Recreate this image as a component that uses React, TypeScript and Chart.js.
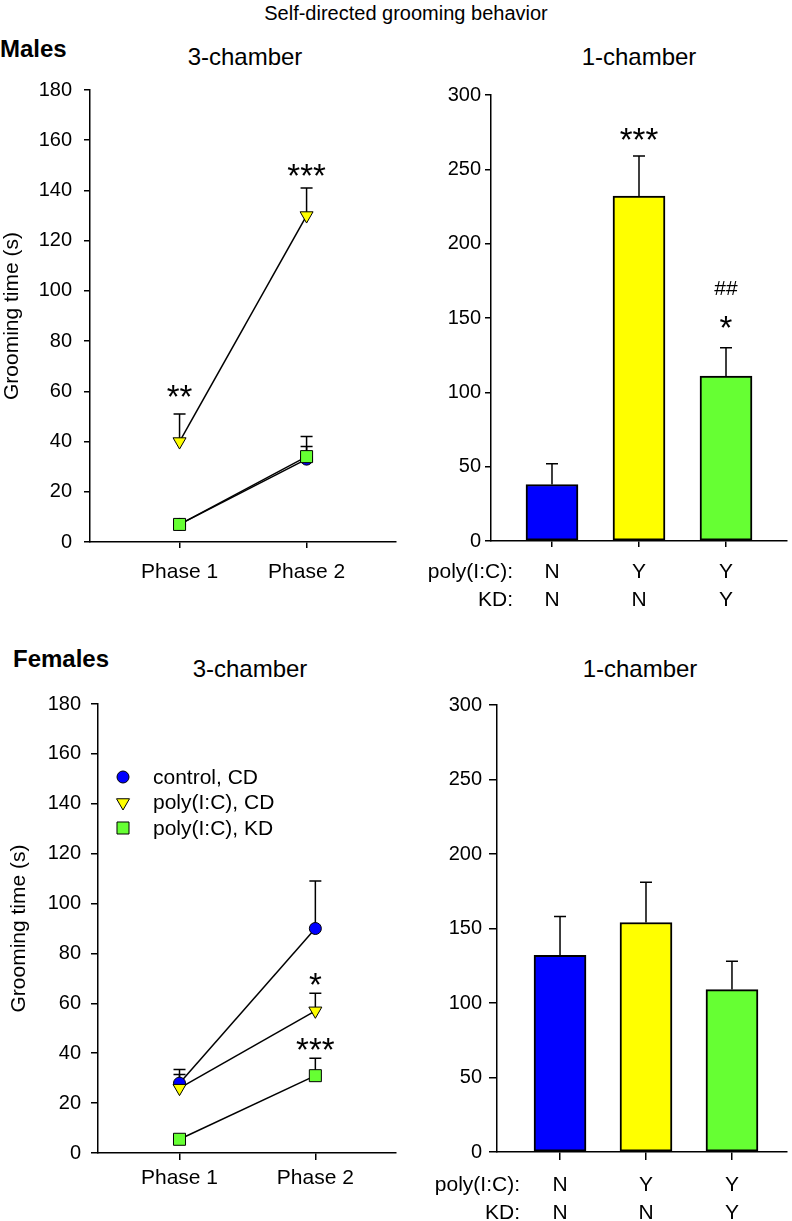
import React, { useEffect, useRef } from 'react';
import { Chart, registerables } from 'chart.js';

Chart.register(...registerables);

const FONT = "'Liberation Sans', Arial, Helvetica, sans-serif";
Chart.defaults.font.family = FONT;
Chart.defaults.color = '#000';

// ---------- data ----------
const phases = ['Phase 1', 'Phase 2'];
const groups = ['control, CD', 'poly(I:C), CD', 'poly(I:C), KD'];
const groupColors = ['#0000FF', '#FFFF00', '#66FF33'];

// Males, 3-chamber (mean and SEM per phase)
const malesControl = [7, 33];
const malesControlSem = [1, 5];
const malesPolyCD = [40, 130];
const malesPolyCDSem = [11, 11];
const malesPolyKD = [7, 34];
const malesPolyKDSem = [1, 8];

// Females, 3-chamber
const femalesControl = [28, 90];
const femalesControlSem = [5.5, 19];
const femalesPolyCD = [26, 57];
const femalesPolyCDSem = [5.5, 7];
const femalesPolyKD = [5.5, 31];
const femalesPolyKDSem = [1, 7];

// 1-chamber bars
const barPolyIC = ['N', 'Y', 'Y'];
const barKD = ['N', 'N', 'Y'];
const malesBars = [38, 232, 111];
const malesBarsSem = [14, 27, 19];
const femalesBars = [132, 154, 109];
const femalesBarsSem = [26, 27, 19];

// significance marks (x = group/phase index starting at 1, y = value at text baseline)
const males3Marks = [
  { x: 1, y: 53.4, text: '**' },
  { x: 2, y: 141.4, text: '***' },
];
const males1Marks = [
  { x: 2, y: 262.5, text: '***' },
  { x: 3, y: 135.8, text: '*' },
  { x: 3, y: 165.4, text: '##' },
];
const females3Marks = [
  { x: 2, y: 63.1, text: '*' },
  { x: 2, y: 37, text: '***' },
];
const females1Marks: { x: number; y: number; text: string }[] = [];

// ---------- helpers ----------
type Box = { left: number; top: number; width: number; height: number; x0: number; y0: number; x1: number; y1: number };

function drawMarker(ctx: CanvasRenderingContext2D, shape: string, x: number, y: number, r: number, color: string) {
  ctx.beginPath();
  if (shape === 'circle') ctx.arc(x, y, r, 0, Math.PI * 2);
  else if (shape === 'triangle') {
    ctx.moveTo(x - r * 0.866, y - r * 0.5);
    ctx.lineTo(x + r * 0.866, y - r * 0.5);
    ctx.lineTo(x, y + r);
    ctx.closePath();
  } else {
    const s = r * Math.SQRT1_2;
    ctx.rect(x - s, y - s, 2 * s, 2 * s);
  }
  ctx.fillStyle = color;
  ctx.fill();
  ctx.lineWidth = 1;
  ctx.strokeStyle = '#000';
  ctx.stroke();
}

function overlayPlugin(o: {
  err: { means: number[]; sems: number[] }[];
  marks: { x: number; y: number; text: string }[];
  legend?: { x: number; y: number; gap: number };
  rows?: { tickLen: number; pad: number; lh: number; dx: number };
}) {
  return {
    id: 'overlay',
    beforeDatasetsDraw(chart: any) {
      const { ctx } = chart;
      const xs = chart.scales.x;
      const ys = chart.scales.y;
      ctx.save();
      ctx.strokeStyle = '#000';
      ctx.lineWidth = 1.5;
      o.err.forEach((e) => {
        e.means.forEach((m, i) => {
          const px = xs.getPixelForValue(i + 1);
          const p0 = ys.getPixelForValue(m);
          const p1 = ys.getPixelForValue(m + e.sems[i]);
          ctx.beginPath();
          ctx.moveTo(px, p0);
          ctx.lineTo(px, p1);
          ctx.moveTo(px - 6, p1);
          ctx.lineTo(px + 6, p1);
          ctx.stroke();
        });
      });
      ctx.restore();
    },
    afterDraw(chart: any) {
      const { ctx } = chart;
      const xs = chart.scales.x;
      const ys = chart.scales.y;
      ctx.save();
      ctx.fillStyle = '#000';
      ctx.textAlign = 'center';
      ctx.textBaseline = 'alphabetic';
      o.marks.forEach((m) => {
        const isHash = m.text.indexOf('#') >= 0;
        ctx.font = `${isHash ? 21 : 33}px ${FONT}`;
        ctx.fillText(m.text, xs.getPixelForValue(m.x), ys.getPixelForValue(m.y));
      });
      if (o.legend) {
        const shapes = ['circle', 'triangle', 'rect'];
        const radii = [6, 7.5, 8.5];
        ctx.font = `21px ${FONT}`;
        ctx.textAlign = 'left';
        ctx.textBaseline = 'middle';
        groups.forEach((g, i) => {
          const y = o.legend!.y + i * o.legend!.gap;
          drawMarker(ctx, shapes[i], o.legend!.x, y, radii[i], groupColors[i]);
          ctx.fillStyle = '#000';
          ctx.fillText(g, o.legend!.x + 30, y + 1);
        });
      }
      if (o.rows) {
        const r = o.rows;
        ctx.font = `21px ${FONT}`;
        ctx.textAlign = 'right';
        ctx.textBaseline = 'middle';
        const x = xs.getPixelForValue(1) - r.dx;
        const base = xs.top + r.tickLen + r.pad;
        ctx.fillText('poly(I:C):', x, base + r.lh * 0.5);
        ctx.fillText('KD:', x, base + r.lh * 1.5);
      }
      ctx.restore();
    },
  };
}

function axisCommon(tickLen: number) {
  return {
    offset: false,
    grid: { display: true, offset: false, drawOnChartArea: false, drawTicks: true, tickLength: tickLen, color: '#000', lineWidth: 1.5 },
    border: { display: true, color: '#000', width: 1.5 },
  };
}

function lineConfig(box: Box, p: {
  means: number[][]; sems: number[][]; xmin: number; xmax: number;
  yPad: number; yTick: number; xTick: number; xPad: number; titlePad: number;
  marks: { x: number; y: number; text: string }[]; legend: boolean;
}) {
  const shapes = ['circle', 'triangle', 'rect'];
  const radii = [6, 7.5, 8.5];
  const datasets = p.means.map((m, i) => ({
    label: groups[i],
    data: m.map((v, j) => ({ x: j + 1, y: v })),
    borderColor: '#000',
    borderWidth: 1.5,
    pointStyle: shapes[i],
    pointRadius: radii[i],
    pointRotation: i === 1 ? 180 : 0,
    pointBackgroundColor: groupColors[i],
    pointBorderColor: '#000',
    pointBorderWidth: 1,
    order: 3 - i,
    tension: 0,
  }));
  return {
    type: 'line',
    data: { datasets },
    options: {
      responsive: false,
      animation: false,
      devicePixelRatio: 1,
      layout: { padding: { top: box.y0 - box.top, right: box.left + box.width - box.x1, left: 0, bottom: 0 } },
      plugins: { legend: { display: false }, tooltip: { enabled: false } },
      scales: {
        x: {
          type: 'linear',
          min: p.xmin,
          max: p.xmax,
          afterBuildTicks: (s: any) => { s.ticks = [{ value: 1 }, { value: 2 }]; },
          ticks: { callback: (v: number) => phases[v - 1], font: { size: 21, lineHeight: 1.2 }, color: '#000', padding: p.xPad, maxRotation: 0, autoSkip: false },
          ...axisCommon(p.xTick),
          afterFit: (s: any) => { s.height = box.top + box.height - box.y1; },
        },
        y: {
          min: 0,
          max: 180,
          ticks: { stepSize: 20, font: { size: 20 }, color: '#000', padding: p.yPad },
          ...axisCommon(p.yTick),
          title: { display: true, text: 'Grooming time (s)', font: { size: 21, lineHeight: 1.2 }, color: '#000', padding: { top: p.titlePad, bottom: 0 } },
          afterFit: (s: any) => { s.width = box.x0 - box.left; },
        },
      },
    },
    plugins: [overlayPlugin({
      err: p.means.map((m, i) => ({ means: m, sems: p.sems[i] })),
      marks: p.marks,
      legend: p.legend ? { x: 123, y: 97, gap: 25.5 } : undefined,
    })],
  };
}

function barConfig(box: Box, p: {
  means: number[]; sems: number[]; xmin: number; xmax: number;
  yPad: number; yTick: number; xTick: number; xPad: number; rowDx: number;
  marks: { x: number; y: number; text: string }[];
}) {
  return {
    type: 'bar',
    data: {
      datasets: [{
        data: p.means.map((v, i) => ({ x: i + 1, y: v })),
        backgroundColor: groupColors,
        borderColor: '#000',
        borderWidth: 2,
        borderSkipped: false,
        barThickness: 52,
      }],
    },
    options: {
      responsive: false,
      animation: false,
      devicePixelRatio: 1,
      layout: { padding: { top: box.y0 - box.top, right: box.left + box.width - box.x1, left: 0, bottom: 0 } },
      plugins: { legend: { display: false }, tooltip: { enabled: false } },
      scales: {
        x: {
          type: 'linear',
          min: p.xmin,
          max: p.xmax,
          afterBuildTicks: (s: any) => { s.ticks = [{ value: 1 }, { value: 2 }, { value: 3 }]; },
          ticks: { callback: (v: number) => [barPolyIC[v - 1], barKD[v - 1]], font: { size: 21, lineHeight: 1.33 }, color: '#000', padding: p.xPad, maxRotation: 0, autoSkip: false },
          ...axisCommon(p.xTick),
          afterFit: (s: any) => { s.height = box.top + box.height - box.y1; },
        },
        y: {
          min: 0,
          max: 300,
          ticks: { stepSize: 50, font: { size: 20 }, color: '#000', padding: p.yPad },
          ...axisCommon(p.yTick),
          afterFit: (s: any) => { s.width = box.x0 - box.left; },
        },
      },
    },
    plugins: [overlayPlugin({
      err: [{ means: p.means, sems: p.sems }],
      marks: p.marks,
      rows: { tickLen: p.xTick, pad: p.xPad, lh: 21 * 1.33, dx: p.rowDx },
    })],
  };
}

// ---------- components ----------
function ChartBox({ box, config }: { box: Box; config: any }) {
  const ref = useRef<HTMLCanvasElement | null>(null);
  useEffect(() => {
    if (!ref.current) return;
    const chart = new Chart(ref.current, config);
    return () => chart.destroy();
  }, []);
  return (
    <canvas
      ref={ref}
      width={box.width}
      height={box.height}
      style={{ position: 'absolute', left: box.left, top: box.top, width: box.width, height: box.height }}
    />
  );
}

function Txt({ x, y, size, bold, center, children }: { x: number; y: number; size: number; bold?: boolean; center?: boolean; children: any }) {
  return (
    <div
      style={{
        position: 'absolute',
        left: x,
        top: y - size * 0.8465,
        fontSize: size,
        lineHeight: `${size}px`,
        fontFamily: FONT,
        fontWeight: bold ? 'bold' : 'normal',
        whiteSpace: 'nowrap',
        color: '#000',
        transform: center ? 'translateX(-50%)' : undefined,
      }}
    >
      {children}
    </div>
  );
}

const boxTL: Box = { left: 0, top: 60, width: 405, height: 560, x0: 90, y0: 90, x1: 400, y1: 542 };
const boxTR: Box = { left: 405, top: 60, width: 387, height: 560, x0: 491, y0: 95, x1: 787, y1: 541 };
const boxBL: Box = { left: 0, top: 680, width: 405, height: 530, x0: 98, y0: 704, x1: 400, y1: 1153 };
const boxBR: Box = { left: 405, top: 680, width: 387, height: 541, x0: 497, y0: 705, x1: 787, y1: 1152 };

export default function App() {
  const cfgTL = lineConfig(boxTL, {
    means: [malesControl, malesPolyCD, malesPolyKD],
    sems: [malesControlSem, malesPolyCDSem, malesPolyKDSem],
    xmin: 0.295, xmax: 2.7, yPad: 12, yTick: 6, xTick: 6, xPad: 11.4, titlePad: 0,
    marks: males3Marks, legend: false,
  });
  const cfgBL = lineConfig(boxBL, {
    means: [femalesControl, femalesPolyCD, femalesPolyKD],
    sems: [femalesControlSem, femalesPolyCDSem, femalesPolyKDSem],
    xmin: 0.4, xmax: 2.59, yPad: 10, yTick: 7, xTick: 7, xPad: 5.4, titlePad: 7,
    marks: females3Marks, legend: true,
  });
  const cfgTR = barConfig(boxTR, {
    means: malesBars, sems: malesBarsSem, xmin: 0.299, xmax: 3.701,
    yPad: 4, yTick: 6, xTick: 6, xPad: 11, rowDx: 39, marks: males1Marks,
  });
  const cfgBR = barConfig(boxBR, {
    means: femalesBars, sems: femalesBarsSem, xmin: 0.267, xmax: 3.64,
    yPad: 7, yTick: 8, xTick: 8, xPad: 11, rowDx: 40, marks: females1Marks,
  });
  return (
    <div style={{ position: 'absolute', left: 0, top: 0, width: 792, height: 1221, background: '#fff', overflow: 'hidden' }}>
      <Txt x={406} y={20} size={20} center>Self-directed grooming behavior</Txt>
      <Txt x={0} y={57} size={24} bold>Males</Txt>
      <Txt x={245} y={65} size={24} center>3-chamber</Txt>
      <Txt x={639} y={65} size={24} center>1-chamber</Txt>
      <Txt x={13} y={667} size={24} bold>Females</Txt>
      <Txt x={250} y={677} size={24} center>3-chamber</Txt>
      <Txt x={640} y={677} size={24} center>1-chamber</Txt>
      <ChartBox box={boxTL} config={cfgTL} />
      <ChartBox box={boxTR} config={cfgTR} />
      <ChartBox box={boxBL} config={cfgBL} />
      <ChartBox box={boxBR} config={cfgBR} />
    </div>
  );
}
